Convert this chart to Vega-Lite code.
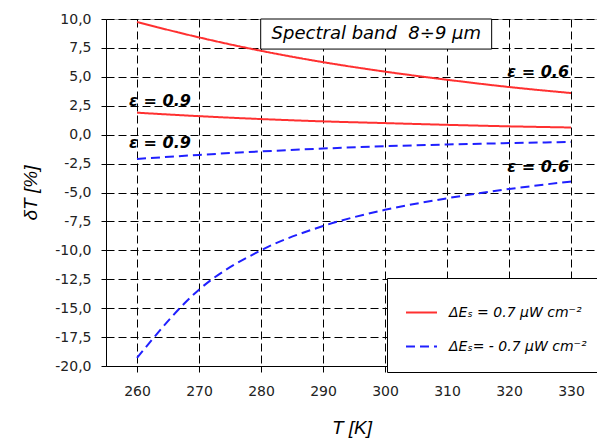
{
  "$schema": "https://vega.github.io/schema/vega-lite/v6.json",
  "autosize": {"type": "none"},
  "width": 491,
  "height": 347,
  "padding": {"left": 106, "top": 19, "right": 0, "bottom": 74},
  "background": "white",
  "config": {
    "view": {"stroke": null},
    "font": "Liberation Sans",
    "axis": {
      "titleFont": "Liberation Sans", "titleFontStyle": "italic", "titleFontWeight": "normal", "titleFontSize": 19, "titleColor": "black",
      "labelFont": "DejaVu Sans", "labelFontSize": 14, "labelColor": "#222", "labelOverlap": false,
      "tickColor": "black", "domainColor": "black",
      "grid": true, "gridColor": "black", "gridDash": [8, 4], "gridOpacity": 1, "gridWidth": 1
    },
    "axisX": {"titlePadding": 20, "labelPadding": 12, "tickSize": 6},
    "axisY": {"titlePadding": 14, "labelPadding": 10, "tickSize": 5},
    "legend": {
      "orient": "none",
      "legendX": 281,
      "legendY": 259,
      "fillColor": "white",
      "strokeColor": "black",
      "padding": 18,
      "symbolType": "stroke",
      "symbolSize": 961,
      "symbolStrokeWidth": 2,
      "labelFont": "DejaVu Sans",
      "labelFontStyle": "italic",
      "labelFontSize": 14,
      "labelColor": "black",
      "labelLimit": 400,
      "labelOffset": 11,
      "rowPadding": 10
    }
  },
  "datasets": {
    "curves": [
      {"T": 260, "v": 9.74, "series": "ΔEₛ =  0.7 μW cm⁻²", "eps": "p06"},
      {"T": 270, "v": 8.41, "series": "ΔEₛ =  0.7 μW cm⁻²", "eps": "p06"},
      {"T": 280, "v": 7.25, "series": "ΔEₛ =  0.7 μW cm⁻²", "eps": "p06"},
      {"T": 290, "v": 6.27, "series": "ΔEₛ =  0.7 μW cm⁻²", "eps": "p06"},
      {"T": 300, "v": 5.45, "series": "ΔEₛ =  0.7 μW cm⁻²", "eps": "p06"},
      {"T": 310, "v": 4.75, "series": "ΔEₛ =  0.7 μW cm⁻²", "eps": "p06"},
      {"T": 320, "v": 4.12, "series": "ΔEₛ =  0.7 μW cm⁻²", "eps": "p06"},
      {"T": 330, "v": 3.6, "series": "ΔEₛ =  0.7 μW cm⁻²", "eps": "p06"},
      {"T": 260, "v": 1.9, "series": "ΔEₛ =  0.7 μW cm⁻²", "eps": "p09"},
      {"T": 270, "v": 1.6, "series": "ΔEₛ =  0.7 μW cm⁻²", "eps": "p09"},
      {"T": 280, "v": 1.35, "series": "ΔEₛ =  0.7 μW cm⁻²", "eps": "p09"},
      {"T": 290, "v": 1.15, "series": "ΔEₛ =  0.7 μW cm⁻²", "eps": "p09"},
      {"T": 300, "v": 1.0, "series": "ΔEₛ =  0.7 μW cm⁻²", "eps": "p09"},
      {"T": 310, "v": 0.85, "series": "ΔEₛ =  0.7 μW cm⁻²", "eps": "p09"},
      {"T": 320, "v": 0.72, "series": "ΔEₛ =  0.7 μW cm⁻²", "eps": "p09"},
      {"T": 330, "v": 0.62, "series": "ΔEₛ =  0.7 μW cm⁻²", "eps": "p09"},
      {"T": 260, "v": -2.1, "series": "ΔEₛ= - 0.7 μW cm⁻²", "eps": "n09"},
      {"T": 270, "v": -1.75, "series": "ΔEₛ= - 0.7 μW cm⁻²", "eps": "n09"},
      {"T": 280, "v": -1.45, "series": "ΔEₛ= - 0.7 μW cm⁻²", "eps": "n09"},
      {"T": 290, "v": -1.2, "series": "ΔEₛ= - 0.7 μW cm⁻²", "eps": "n09"},
      {"T": 300, "v": -1.0, "series": "ΔEₛ= - 0.7 μW cm⁻²", "eps": "n09"},
      {"T": 310, "v": -0.85, "series": "ΔEₛ= - 0.7 μW cm⁻²", "eps": "n09"},
      {"T": 320, "v": -0.73, "series": "ΔEₛ= - 0.7 μW cm⁻²", "eps": "n09"},
      {"T": 330, "v": -0.63, "series": "ΔEₛ= - 0.7 μW cm⁻²", "eps": "n09"},
      {"T": 260, "v": -19.3, "series": "ΔEₛ= - 0.7 μW cm⁻²", "eps": "n06"},
      {"T": 270, "v": -13.4, "series": "ΔEₛ= - 0.7 μW cm⁻²", "eps": "n06"},
      {"T": 280, "v": -10.0, "series": "ΔEₛ= - 0.7 μW cm⁻²", "eps": "n06"},
      {"T": 290, "v": -7.9, "series": "ΔEₛ= - 0.7 μW cm⁻²", "eps": "n06"},
      {"T": 300, "v": -6.5, "series": "ΔEₛ= - 0.7 μW cm⁻²", "eps": "n06"},
      {"T": 310, "v": -5.5, "series": "ΔEₛ= - 0.7 μW cm⁻²", "eps": "n06"},
      {"T": 320, "v": -4.7, "series": "ΔEₛ= - 0.7 μW cm⁻²", "eps": "n06"},
      {"T": 330, "v": -4.05, "series": "ΔEₛ= - 0.7 μW cm⁻²", "eps": "n06"}
    ],
    "labels": [
      {"T": 263.7, "v": 2.93, "txt": "ε = 0.9"},
      {"T": 263.7, "v": -0.75, "txt": "ε = 0.9"},
      {"T": 324.7, "v": 5.4, "txt": "ε = 0.6"},
      {"T": 324.7, "v": -2.78, "txt": "ε = 0.6"}
    ],
    "box": [
      {"T": 279.95, "T2": 317.2, "v": 10, "v2": 7.4}
    ],
    "boxtext": [
      {"T": 298.6, "v": 8.7, "txt": "Spectral band\u00a0\u00a08÷9 μm"}
    ],
    "frame": [
      {"v": 10}
    ]
  },
  "encoding": {
    "x": {
      "field": "T", "type": "quantitative",
      "scale": {"domain": [255, 334.19], "nice": false, "zero": false},
      "axis": {"values": [260, 270, 280, 290, 300, 310, 320, 330], "title": "T [K]"}
    },
    "y": {
      "field": "v", "type": "quantitative",
      "scale": {"domain": [-20, 10], "nice": false, "zero": false},
      "axis": {
        "values": [-20, -17.5, -15, -12.5, -10, -7.5, -5, -2.5, 0, 2.5, 5, 7.5, 10],
        "labelExpr": "(datum.value < 0 ? '-' : '') + replace(format(abs(datum.value), '.1f'), '.', ',')",
        "title": "δT [%]"
      }
    }
  },
  "layer": [
    {
      "data": {"name": "curves"},
      "mark": {"type": "line", "strokeWidth": 2, "clip": true, "interpolate": "monotone"},
      "encoding": {
        "detail": {"field": "eps"},
        "color": {
          "field": "series", "type": "nominal",
          "scale": {"domain": ["ΔEₛ =  0.7 μW cm⁻²", "ΔEₛ= - 0.7 μW cm⁻²"], "range": ["#ff3030", "#2020ff"]},
          "legend": {"title": null}
        },
        "strokeDash": {
          "field": "series", "type": "nominal",
          "scale": {"domain": ["ΔEₛ =  0.7 μW cm⁻²", "ΔEₛ= - 0.7 μW cm⁻²"], "range": [[1, 0], [9, 5]]},
          "legend": {"title": null}
        }
      }
    },
    {
      "data": {"name": "frame"},
      "mark": {"type": "tick", "orient": "horizontal", "color": "black", "thickness": 1, "size": 1200, "clip": true},
      "encoding": {
        "x": {"field": "v", "type": "quantitative", "scale": null, "axis": null},
        "y": {"field": "v", "type": "quantitative"}
      }
    },
    {
      "data": {"name": "labels"},
      "mark": {"type": "text", "font": "DejaVu Sans", "fontStyle": "italic", "fontWeight": "bold", "fontSize": 16, "align": "center", "baseline": "middle", "color": "black"},
      "encoding": {
        "text": {"field": "txt"}
      }
    },
    {
      "data": {"name": "box"},
      "mark": {"type": "rect", "fill": "white", "stroke": "black", "strokeWidth": 1},
      "encoding": {
        "x2": {"field": "T2"},
        "y2": {"field": "v2"}
      }
    },
    {
      "data": {"name": "boxtext"},
      "mark": {"type": "text", "font": "DejaVu Sans", "fontStyle": "italic", "fontSize": 18, "align": "center", "baseline": "middle", "color": "black"},
      "encoding": {
        "text": {"field": "txt"}
      }
    }
  ]
}
